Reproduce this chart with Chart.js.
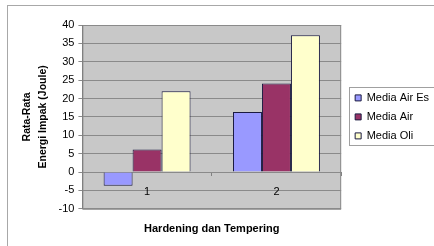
<!DOCTYPE html>
<html>
<head>
<meta charset="utf-8">
<script src="https://cdn.jsdelivr.net/npm/chart.js@4/dist/chart.umd.min.js"></script>
<style>
  html, body { margin: 0; padding: 0; background: #fff; }
  #wrap { position: relative; width: 434px; height: 246px; overflow: hidden; }
  #frame { position: absolute; left: 7px; top: 5px; width: 440px; height: 260px; border: 1px solid #a8a8a8; }
  canvas { position: absolute; left: 0; top: 0; }
</style>
</head>
<body>
<div id="wrap">
  <div id="frame"></div>
  <canvas id="chart" width="434" height="246"></canvas>
</div>
<script>
const categories = ['1', '2'];
const mediaAirEs = [-3.7, 16.3];
const mediaAir = [6.1, 24.1];
const mediaOli = [22.0, 37.2];

const fontFam = '"Liberation Sans", Arial, sans-serif';

// geser legenda sedikit ke kanan seperti di Excel
const legendShift = {
  id: 'legendShift',
  afterLayout(chart) {
    const lg = chart.legend;
    lg.left += 6;
    lg.right += 6;
  }
};

// latar abu-abu area plot + bingkai legenda
const plotBg = {
  id: 'plotBg',
  beforeDraw(chart) {
    const { ctx, chartArea: a } = chart;
    ctx.save();
    ctx.fillStyle = '#c8c8c8';
    ctx.fillRect(a.left, a.top, a.right - a.left, a.bottom - a.top);
    ctx.strokeStyle = '#8c8c8c';
    ctx.lineWidth = 1;
    ctx.strokeRect(a.left + 0.5, a.top + 0.5, a.right - a.left - 1, a.bottom - a.top);

    const boxes = chart.legend.legendHitBoxes;
    if (boxes && boxes.length) {
      const first = boxes[0], last = boxes[boxes.length - 1];
      const top = Math.round(first.top) - 4.5;
      const bottom = Math.round(last.top + last.height) + 4.5;
      const left = Math.round(first.left) - 5.5;
      ctx.fillStyle = '#fff';
      ctx.fillRect(left, top, 200, bottom - top);
      ctx.strokeStyle = '#a0a0a0';
      ctx.strokeRect(left, top, 200, bottom - top);
    }
    ctx.restore();
  }
};

new Chart(document.getElementById('chart'), {
  type: 'bar',
  data: {
    labels: categories,
    datasets: [
      { label: 'Media Air Es', data: mediaAirEs, backgroundColor: '#9999ff', borderColor: '#1a1a40', borderWidth: 1 },
      { label: 'Media Air', data: mediaAir, backgroundColor: '#993366', borderColor: '#1a1a40', borderWidth: 1 },
      { label: 'Media Oli', data: mediaOli, backgroundColor: '#ffffcc', borderColor: '#1a1a40', borderWidth: 1 }
    ]
  },
  options: {
    responsive: false,
    animation: false,
    events: [],
    categoryPercentage: 0.672,
    barPercentage: 1,
    layout: { padding: { left: 19, top: 25, right: 1, bottom: 6 } },
    scales: {
      x: {
        position: { y: 0 },
        offset: true,
        grid: { drawOnChartArea: false, offset: true, tickLength: 4, color: '#808080' },
        border: { display: false },
        ticks: { padding: 9, color: '#000', font: { family: fontFam, size: 11 } }
      },
      y: {
        min: -10,
        max: 40,
        ticks: { stepSize: 5, padding: 4, color: '#000', font: { family: fontFam, size: 11 } },
        grid: { color: '#8a8a8a', tickLength: 4 },
        border: { color: '#808080' },
        title: {
          display: true,
          text: ['Rata-Rata', 'Energi Impak (Joule)'],
          color: '#000',
          padding: { top: 0, bottom: 4 },
          font: { family: fontFam, size: 10.5, weight: 'bold', lineHeight: 1.5 }
        }
      }
    },
    plugins: {
      legend: {
        position: 'right',
        fullSize: false,
        labels: {
          boxWidth: 6,
          boxHeight: 6,
          padding: 8,
          color: '#000',
          font: { family: fontFam, size: 11 }
        }
      },
      title: {
        display: true,
        position: 'bottom',
        fullSize: false,
        text: 'Hardening dan Tempering',
        color: '#000',
        padding: { top: 14, bottom: 4 },
        font: { family: fontFam, size: 11, weight: 'bold', lineHeight: 1.2 }
      },
      tooltip: { enabled: false }
    }
  },
  plugins: [legendShift, plotBg]
});
</script>
</body>
</html>
